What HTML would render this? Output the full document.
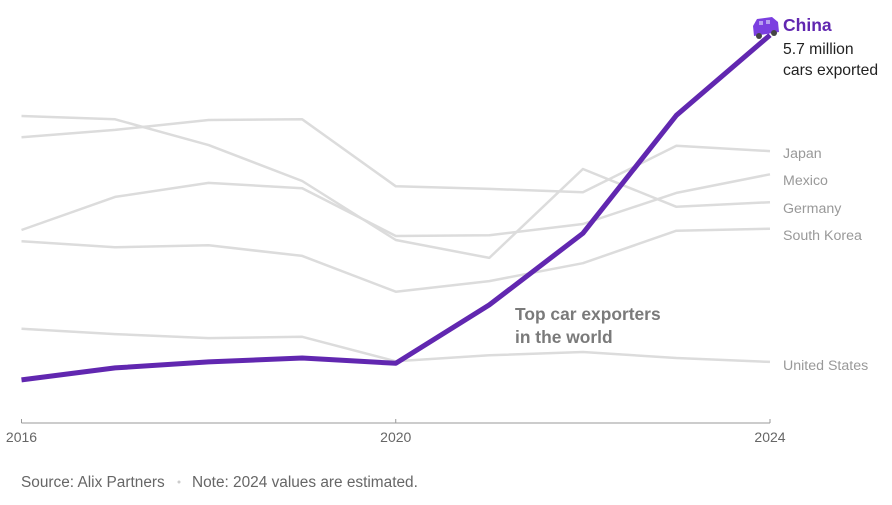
<!DOCTYPE html>
<html><head><meta charset="utf-8"><style>
html,body{margin:0;padding:0;background:#fff;}
svg text{font-family:"Liberation Sans",Arial,sans-serif;}
</style></head><body>
<svg id="chart" width="892" height="500" viewBox="0 0 892 500" xmlns="http://www.w3.org/2000/svg">
<g id="grey-lines"></g>
<g id="axis"></g>
<g id="china"></g>
<g id="labels"></g>
<text x="515" y="320" font-size="17.4" font-weight="bold" fill="#7a7a7a">Top car exporters</text>
<text x="515" y="343" font-size="17.4" font-weight="bold" fill="#7a7a7a">in the world</text>
<text x="783" y="31" font-size="17.5" font-weight="bold" fill="#6127b0">China</text>
<text x="783" y="54" font-size="15.7" fill="#222">5.7 million</text>
<text x="783" y="75" font-size="15.7" fill="#222">cars exported</text>
<g>
<path d="M753 26 L757 19 L772 17 L778 22 L779 32 L754 36 Z" fill="#7b3fe0"/>
<rect x="759" y="21" width="4" height="4" fill="#b79ef0"/>
<rect x="766" y="20" width="4" height="4" fill="#b79ef0"/>
<circle cx="759" cy="36" r="3" fill="#444"/>
<circle cx="774" cy="33" r="3" fill="#444"/>
</g>
<text x="21" y="487" font-size="15.4" fill="#666">Source: Alix Partners</text>
<circle cx="179" cy="482" r="1.5" fill="#ccc"/>
<text x="192" y="487" font-size="15.4" fill="#666">Note: 2024 values are estimated.</text>
</svg>
<script>
const years = [2016,2017,2018,2019,2020,2021,2022,2023,2024];
const tickYears = [2016,2020,2024];
const china = [0.50,0.68,0.77,0.83,0.75,1.63,2.71,4.49,5.70];
const japan = [4.16,4.27,4.42,4.43,3.42,3.38,3.33,4.03,3.95];
const germany = [4.48,4.43,4.04,3.50,2.61,2.34,3.68,3.11,3.18];
const mexico = [2.76,3.26,3.47,3.39,2.67,2.68,2.85,3.32,3.60];
const southKorea = [2.59,2.50,2.53,2.37,1.83,1.99,2.26,2.75,2.78];
const unitedStates = [1.27,1.19,1.13,1.15,0.78,0.87,0.92,0.83,0.77];
const countryNames = ["Japan","Mexico","Germany","South Korea","United States"];
const labelYs = [153,180,208,235,365];

const NS="http://www.w3.org/2000/svg";
const x = yr => 21.5 + (yr-2016)*(770-21.5)/8;
const y = v => 413 - v*66.3;
function mk(tag,attrs,parent){const e=document.createElementNS(NS,tag);for(const k in attrs)e.setAttribute(k,attrs[k]);parent.appendChild(e);return e;}
function pts(vals){return vals.map((v,i)=>x(years[i]).toFixed(1)+","+y(v).toFixed(1)).join(" ");}

const grey=document.getElementById("grey-lines");
const series=[japan,germany,mexico,southKorea,unitedStates];
const snames=["japan-line","germany-line","mexico-line","south-korea-line","united-states-line"];
series.forEach((s,i)=>{
  const p=mk("polyline",{points:pts(s),fill:"none",stroke:"#dcdcdc","stroke-width":"2.5","stroke-linejoin":"round"},grey);
  
  
});

const ax=document.getElementById("axis");
const al=mk("line",{x1:21.5,x2:770,y1:423,y2:423,stroke:"#999","stroke-width":"1"},ax);


tickYears.forEach(t=>{
  const tk=mk("line",{x1:x(t),x2:x(t),y1:419,y2:423,stroke:"#999","stroke-width":"1"},ax);
  
  
  const tx=mk("text",{x:x(t),y:442,"font-size":"14",fill:"#666","text-anchor":"middle"},ax);
  tx.textContent=t;
  
  
});

const ch=document.getElementById("china");
const cl=mk("polyline",{points:pts(china),fill:"none",stroke:"#6127b0","stroke-width":"5","stroke-linejoin":"round"},ch);



const lb=document.getElementById("labels");
countryNames.forEach((n,i)=>{
  const t=mk("text",{x:783,y:labelYs[i]+5,"font-size":"14.2",fill:"#999"},lb);
  t.textContent=n;
  
  
});
</script>
</body></html>
